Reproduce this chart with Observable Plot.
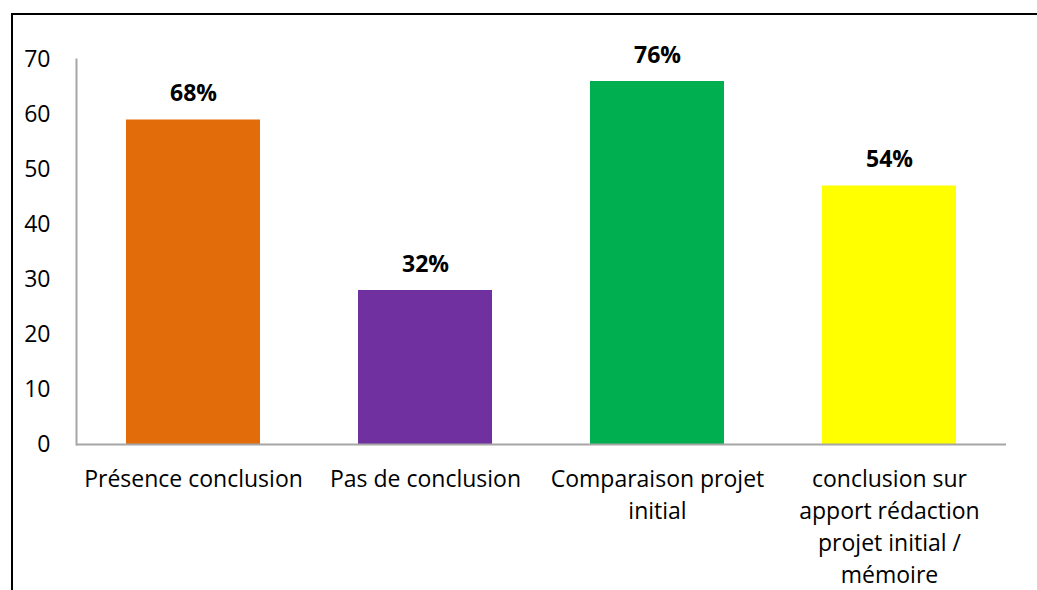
<!DOCTYPE html>
<html><head><meta charset="utf-8">
<script src="https://cdn.jsdelivr.net/npm/d3@7"></script>
<script src="https://cdn.jsdelivr.net/npm/@observablehq/plot@0.6"></script>
<style>
body{margin:0;background:#fff;}
#wrap{position:relative;width:1037px;height:590px;overflow:hidden;}
#frame{position:absolute;left:11px;top:13px;width:1040px;height:600px;border-top:2px solid #000;border-left:2px solid #000;}
#chart{position:absolute;left:0;top:0;}
</style></head>
<body><div id="wrap"><div id="chart"></div><div id="frame"></div></div>
<script>
const categories = ["Présence conclusion","Pas de conclusion","Comparaison projet\ninitial","conclusion sur\napport rédaction\nprojet initial /\nmémoire"];
const values = [59, 28, 66, 47];
const percents = ["68%","32%","76%","54%"];
const colors = ["#E36C0A","#7030A0","#00B050","#FFFF00"];
const yTicks = [0,10,20,30,40,50,60,70];

const data = categories.map((c,i)=>({cat:c, v:values[i], p:percents[i], col:colors[i]}));
const font = "'Open Sans', sans-serif";

const chart = Plot.plot({
  width:1037, height:590,
  marginLeft:76, marginRight:31, marginTop:59, marginBottom:146,
  style:{fontFamily:font, fontSize:"23px", color:"#000", background:"transparent"},
  x:{domain:categories, paddingInner:0.424, paddingOuter:0.212, label:null},
  y:{domain:[0,70], label:null},
  marks:[
    Plot.barY(data,{x:"cat", y:"v", fill:"col"}),
    Plot.axisY({ticks:yTicks, tickSize:0, tickPadding:26, fontSize:23, label:null}),
    Plot.axisX({tickSize:0, tickPadding:20, fontSize:23, lineHeight:1.39, label:null}),
    Plot.frame({anchor:"left", stroke:"#a6a6a6", strokeWidth:2}),
    Plot.ruleY([0],{stroke:"#a6a6a6", strokeWidth:2}),
    Plot.text(data,{x:"cat", y:"v", text:"p", dy:-26, fontWeight:"bold", fontSize:23})
  ]
});
document.getElementById("chart").appendChild(chart);
</script></body></html>
